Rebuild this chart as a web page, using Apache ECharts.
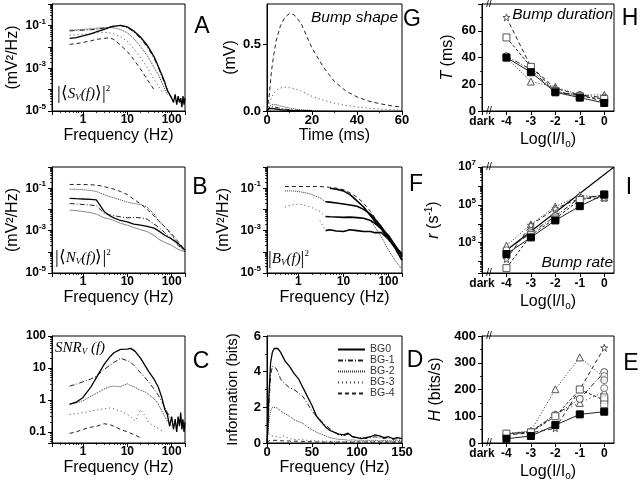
<!DOCTYPE html>
<html><head><meta charset="utf-8">
<script src="https://cdn.jsdelivr.net/npm/echarts@6/dist/echarts.min.js"></script>
<style>html,body{margin:0;padding:0;background:#fff}#c{width:640px;height:485px}</style>
</head><body><div id="c"></div>
<script>
// ---------------- DATA ----------------
// Panel A: signal power spectra |<S_V(f)>|^2
const fA = [0.5,0.7,1,1.5,2,3,4,5,7,10,14,20,28,40,50,60,70,80,90,100,110,120,130,140,150,160,170,180,190,200];
const A_bg0 = [0.025,0.027,0.032,0.04,0.05,0.066,0.08,0.09,0.1,0.085,0.055,0.028,0.012,0.0035,0.0012,0.0005,0.00022,0.00009,0.00006,0.00004,0.000025,0.00006,0.00002,0.00005,0.000025,0.00004,0.000015,0.00005,0.00002,0.00004];
const A_bg1 = [0.055,0.058,0.06,0.062,0.066,0.075,0.085,0.095,0.1,0.08,0.05,0.024,0.01,0.003,0.0011,0.0004,0.0002,0.0001,0.00006,0.00004];
const A_bg2 = [0.06,0.062,0.065,0.07,0.074,0.08,0.08,0.075,0.065,0.045,0.025,0.01,0.004,0.0011,0.0005,0.00022,0.0001,0.00006];
const A_bg3 = [0.035,0.036,0.038,0.042,0.045,0.048,0.045,0.04,0.03,0.018,0.008,0.003,0.0011,0.0003,0.00015,0.00008];
const A_bg4 = [0.013,0.014,0.016,0.019,0.022,0.025,0.026,0.022,0.012,0.006,0.0025,0.0009,0.0003,0.0001];

// Panel B: noise power spectra |<N_V(f)>|^2
const fB = [0.5,0.7,1,1.5,2,3,4,5,7,10,14,20,28,40,50,70,100,140,200];
const B_bg4 = [0.15,0.15,0.15,0.145,0.14,0.12,0.1,0.09,0.07,0.05,0.03,0.018,0.01,0.005,0.003,0.0015,0.0007,0.0003,0.00012];
const B_bg2 = [0.09,0.088,0.085,0.078,0.07,0.05,0.04,0.035,0.028,0.022,0.019,0.017,0.013,0.006,0.003,0.0015,0.0006,0.00025,0.0001];
const B_bg0 = [0.033,0.032,0.031,0.03,0.028,0.008,0.005,0.004,0.003,0.0026,0.002,0.0018,0.0016,0.0013,0.001,0.0006,0.0004,0.00025,0.00012];
const B_bg1 = [0.019,0.018,0.017,0.016,0.015,0.0066,0.0055,0.005,0.0045,0.004,0.0042,0.004,0.0035,0.002,0.0015,0.0008,0.0004,0.0002,0.0001];
const B_bg3 = [0.0093,0.0088,0.008,0.007,0.006,0.004,0.0035,0.003,0.0022,0.0018,0.0014,0.0011,0.0009,0.0006,0.0004,0.00028,0.0002,0.00013,0.0001];

// Panel F: bump power spectra |B_V(f)|^2
const fF = [0.5,0.7,1,1.5,2,3,4,5,7,10,14,20,28,40,50,70,100,140,200];
const F_top = [0.12,0.12,0.12,0.12,0.12,0.12,0.115,0.11,0.1,0.085,0.06,0.038,0.02,0.008,0.004,0.0015,0.0005,0.00015,0.00004];
const F_s1 = [null,null,null,null,null,null,null,0.1,0.09,0.075,0.05,0.025,0.013,0.005,0.0028,0.0012,0.0004,0.00018,0.00008];
const F_s2 = [null,null,null,null,null,null,0.023,0.022,0.02,0.018,0.016,0.014,0.01,0.006,0.0035,0.0015,0.0005,0.0002,0.00006];
const F_d2 = [0.075,0.075,0.07,0.06,0.05,0.035,0.023];
const F_s3 = [null,null,null,null,null,null,0.0046,0.0045,0.0044,0.0042,0.0043,0.0041,0.0038,0.003,0.0022,0.0012,0.0006,0.0002,0.00006];
const F_d3 = [0.013,0.016,0.018,0.015,0.012,0.008,0.0046];
const F_s4 = [null,null,null,null,null,null,0.001,0.0011,0.00095,0.0009,0.0011,0.001,0.0009,0.0009,0.0008,0.0008,0.0004,0.00015,0.00004];
const F_d4 = [null,null,null,null,null,0.003,0.001];
const F_tail = [null,null,null,null,null,null,null,null,null,null,null,null,null,0.003,0.0015,0.0005,0.00012,0.00004,0.000015];

// Panel G: bump shape
const tG = [0,1,2,3,4,5,6,8,10,12,15,20,25,30,35,40,45,50,55,60];
const G_bg4 = [0,0.12,0.3,0.42,0.52,0.58,0.64,0.7,0.73,0.72,0.66,0.47,0.33,0.22,0.15,0.105,0.075,0.055,0.04,0.028];
const G_bg3 = [0,0.05,0.1,0.13,0.15,0.165,0.172,0.178,0.175,0.168,0.15,0.11,0.08,0.058,0.042,0.03,0.021,0.015,0.01,0.007];
const G_bg2 = [0,0.03,0.045,0.05,0.048,0.043,0.038,0.03,0.022,0.016,0.01,0.004,0.0015,0.0005];
const G_bg1 = [0,0.025,0.033,0.032,0.028,0.024,0.02,0.014,0.01,0.007,0.004,0.001];
const G_bg0 = [0,0.018,0.02,0.018,0.015,0.012,0.01,0.006,0.004,0.002,0.001,0];

// Panel C: SNR
const fC = [0.5,0.7,1,1.5,2,3,4,5,7,10,12,15,20,25,30,40,50,60,70,80,90,100,110,120,130,140,150,160,170,180,190,200];
const C_bg0 = [0.74,0.85,1.2,2.5,5,13,22,30,38,39,41,33,20,12,8,4.5,2.5,1.2,0.5,0.35,0.15,0.3,0.12,0.25,0.1,0.3,0.15,0.4,0.12,0.25,0.1,0.2];
const C_bg1 = [2.7,3.1,3.7,4.5,5.5,9,12,15,20,17,15,11,7,5,3.7,2.2,1.4,0.9,0.6,0.4,0.3,0.25];
const C_bg2 = [0.72,0.8,0.95,1.3,1.6,2.2,2.6,2.7,2.6,3.2,2.8,2.5,2.0,1.8,1.5,1.1,0.75,0.45,0.3,0.22,0.18,0.15];
const C_bg3 = [0.35,0.37,0.4,0.45,0.48,0.53,0.56,0.52,0.45,0.35,0.3,0.22,0.5,0.32,0.2,0.15,0.13,0.11,0.1];
const C_bg4 = [0.09,0.1,0.12,0.14,0.15,0.18,0.17,0.15,0.12,0.1,0.09,0.08,0.065];

// Panel D: information
const fD = [0,1,2,4,6,8,10,12,15,18,20,25,30,35,40,45,50,55,60,65,70,75,80,85,90,95,100,105,110,115,120,125,130,135,140,145,150];
const D_bg0 = [0,1.0,2.5,4.5,5.1,5.3,5.35,5.3,5.1,4.8,4.6,4.3,3.9,3.6,3.1,2.6,2.1,1.5,1.2,0.9,0.7,0.6,0.5,0.45,0.55,0.35,0.3,0.25,0.3,0.35,0.45,0.4,0.3,0.35,0.25,0.3,0.25];
const D_bg1 = [0,0.8,2.0,3.8,4.3,4.4,4.2,4.0,3.6,3.4,3.3,3.1,3.0,2.8,2.6,2.2,1.8,1.5,1.25,1.0,0.8,0.6,0.45,0.4,0.5,0.35,0.3,0.3,0.25,0.3,0.35,0.3,0.25,0.3,0.2,0.25,0.2];
const D_bg2 = [0,0.5,1.2,1.8,2.0,2.1,2.0,1.9,1.8,1.7,1.6,1.5,1.3,1.2,1.1,0.9,0.75,0.6,0.5,0.4,0.3,0.25,0.2,0.2,0.15,0.18,0.15,0.15,0.12,0.15,0.15,0.12,0.15,0.12,0.12,0.15,0.12];
const D_bg3 = [0,0.6,0.5,0.45,0.4,0.35,0.3,0.35,0.3,0.4,0.35,0.25,0.2,0.2,0.18,0.15,0.15,0.12,0.1,0.1,0.1,0.08,0.1,0.08,0.08,0.1,0.08,0.08,0.1,0.08,0.08,0.08,0.1,0.08,0.08,0.08,0.08];
const D_bg4 = [0,0.1,0.12,0.15,0.15,0.14,0.15,0.14,0.13,0.12,0.12,0.11,0.1,0.1,0.09,0.08,0.07,0.06,0.06,0.05,0.05,0.05,0.05,0.05,0.05,0.05,0.05,0.05,0.05,0.05,0.05,0.05,0.05,0.05,0.05,0.05,0.05];
const legendNames = ['BG0','BG-1','BG-2','BG-3','BG-4'];

// Panels H, I, E: vs light level
const LX = [-4,-3,-2,-1,0];
const H_fsq = [40,29,14,10,6];
const H_osq = [55,33,15,11,9];
const H_star = [70,33,17,12,7];
const H_circ = [41,31,14,12,10];
const H_tri = [40,22,18,12,12];

const I_fsq = [250,1900,15000,85000,350000];
const I_osq = [45,2500,19000,180000,350000];
const I_star = [135,8500,63000,220000,220000];
const I_tri = [700,9300,80000,320000,250000];
const I_circ = [400,3200,25000,240000,300000];
const I_lineX = [-4,0.4];
const I_lineY = [400,1e7];

const E_fsq = [16,26,67,107,117];
const E_osq = [35,40,100,200,160];
const E_star = [30,38,55,200,356];
const E_tri = [36,45,201,320,245];
const E_tri2 = [33,44,107,150,191];
const E_circ = [33,42,105,165,265];
const E_extraX = [0,0,0];
const E_extraCirc = [250,235,205];
const E_extraSqX = [0,0];
const E_extraSq = [145,170];

const lightTicks = ['dark','-4','-3','-2','-1','0'];

// ---------------- LAYOUT ----------------
const FONT = "'Liberation Sans', Arial, Helvetica, sans-serif";
const SERIF = "'Liberation Serif', 'Times New Roman', serif";
// grids: A G H / B F I / C D E
const COLS = [[52,133],[267,135],[482,132]];
const ROWS = [[4,107],[167,106],[336,107]];
const GR = [];
for (let r=0;r<3;r++) for (let c=0;c<3;c++) GR.push({left:COLS[c][0], top:ROWS[r][0], width:COLS[c][1], height:ROWS[r][1]});
const IA=0, IG=1, IH=2, IB=3, IF=4, II=5, IC=6, ID=7, IE=8;

function merge(a,b){
  const o = Object.assign({}, a);
  for (const k in b){
    const v = b[k];
    if (v && typeof v==='object' && !Array.isArray(v) && a[k] && typeof a[k]==='object' && !Array.isArray(a[k])) o[k]=merge(a[k],v);
    else o[k]=v;
  }
  return o;
}
function zip(xs, ys){ const d=[]; for (let i=0;i<ys.length;i++){ if (ys[i]==null || xs[i]==null) continue; d.push([xs[i], ys[i]]);} return d; }
function isDecade(v){ const l=Math.log10(v); return Math.abs(l-Math.round(l))<1e-6; }

const LBL = {color:'#000', fontFamily:FONT, fontWeight:'bold', fontSize:12};
const SUPRICH = {
  b:{fontSize:12,fontWeight:'bold',fontFamily:FONT,color:'#000'},
  s:{fontSize:8,fontWeight:'bold',fontFamily:FONT,color:'#000',padding:[0,0,8,0]}
};
const NAMERICH = {
  i:{fontSize:16,fontStyle:'italic',fontFamily:FONT,color:'#000'},
  s:{fontSize:10,fontFamily:FONT,color:'#000',padding:[0,0,9,0]},
  sub:{fontSize:10,fontFamily:FONT,color:'#000',padding:[9,0,0,0]}
};
function axis(gi, opt){
  return merge({
    gridIndex: gi, nameLocation:'middle',
    axisLine:{show:true,onZero:false,lineStyle:{color:'#000',width:1}},
    axisTick:{show:true,length:4,lineStyle:{color:'#000',width:1}},
    minorTick:{show:false,length:2,lineStyle:{color:'#000',width:0.8}},
    splitLine:{show:false}, minorSplitLine:{show:false},
    axisLabel: Object.assign({margin:3}, LBL),
    nameTextStyle:{color:'#000',fontFamily:FONT,fontSize:16,rich:NAMERICH}
  }, opt);
}
const supFmt = v => { if (!isDecade(v)) return ''; const e=Math.round(Math.log10(v)); if (Math.abs(e%2)!==1) return ''; return '{b|10}{s|'+e+'}'; };
const freqFmt = v => (isDecade(v) && v>=1) ? String(Math.round(v)) : '';
const lightFmt = v => { const i = Math.round(v+5); if (Math.abs(v+5-i)>1e-6 || i<0 || i>5) return ''; return lightTicks[i]; };

function freqX(gi){ return axis(gi,{type:'log',min:0.2,max:200,name:'Frequency (Hz)',nameGap:17,
  axisLabel:{formatter:freqFmt}, minorTick:{show:true,splitNumber:9}}); }
function lightX(gi){ return axis(gi,{type:'value',min:-5,max:0.4,interval:1,name:'Log(I/I{sub|o})',nameGap:19,
  axisLabel:{formatter:lightFmt, margin:5, showMaxLabel:false}}); }
function specY(gi, gap){ return axis(gi,{type:'log',min:1e-5,max:1,name:'(mV²/Hz)',nameGap:gap,
  axisLabel:{formatter:supFmt, rich:SUPRICH, margin:6}, minorTick:{show:true,splitNumber:9}}); }

const xAxis = [], yAxis = [];
xAxis[IA]=freqX(IA); yAxis[IA]=specY(IA,31);
xAxis[IB]=freqX(IB); yAxis[IB]=specY(IB,31);
xAxis[IF]=freqX(IF); yAxis[IF]=specY(IF,35);
xAxis[IC]=freqX(IC);
yAxis[IC]=axis(IC,{type:'log',min:0.045,max:100,axisLabel:{margin:6,formatter:v=>isDecade(v)?String(Number(v.toPrecision(3))):''},minorTick:{show:true,splitNumber:9}});
xAxis[IG]=axis(IG,{type:'value',min:0,max:60,interval:20,name:'Time (ms)',nameGap:17,axisLabel:{fontSize:13},minorTick:{show:true,splitNumber:2}});
yAxis[IG]=axis(IG,{type:'value',min:0,max:0.8,interval:0.5,name:'(mV)',nameGap:24,axisLabel:{fontSize:13,margin:6,showMaxLabel:false,formatter:v=>v.toFixed(1)}});
xAxis[ID]=axis(ID,{type:'value',min:0,max:150,interval:50,name:'Frequency (Hz)',nameGap:17,axisLabel:{fontSize:13},minorTick:{show:true,splitNumber:2}});
yAxis[ID]=axis(ID,{type:'value',min:0,max:6,interval:2,name:'Information (bits)',nameGap:27,nameTextStyle:{fontSize:15},axisLabel:{fontSize:13,margin:6},minorTick:{show:true,splitNumber:2}});
xAxis[IH]=lightX(IH);
yAxis[IH]=axis(IH,{type:'value',min:0,max:80,interval:20,name:'{i|T} (ms)',nameGap:26,axisLabel:{fontSize:13,margin:6,showMaxLabel:false},minorTick:{show:true,splitNumber:2}});
xAxis[II]=lightX(II);
yAxis[II]=axis(II,{type:'log',min:25,max:1e7,name:'{i|r} (s{s|-1})',nameGap:39,axisLabel:{formatter:supFmt,rich:SUPRICH,margin:6},minorTick:{show:true,splitNumber:9}});
xAxis[IE]=lightX(IE);
yAxis[IE]=axis(IE,{type:'value',min:0,max:400,interval:100,name:'{i|H} (bits/s)',nameGap:38,axisLabel:{fontSize:13,margin:6},minorTick:{show:true,splitNumber:2}});

// ---------------- SERIES ----------------
const ST = {
  bg0:{color:'#000',width:1.3,type:'solid'},
  bg1:{color:'#222',width:1,type:[5,2,1,2]},
  bg2:{color:'#333',width:1,type:[1,1]},
  bg3:{color:'#444',width:1,type:[1,3]},
  bg4:{color:'#222',width:1,type:[4,3]},
  gray:{color:'#888',width:1,type:'solid'},
  thick:{color:'#000',width:1.6,type:'solid'}
};
function ln(gi, xs, ys, st, name){
  const s = {type:'line', xAxisIndex:gi, yAxisIndex:gi, data:zip(xs,ys), symbol:'none', silent:true,
    lineStyle:Object.assign({},st), itemStyle:{color:st.color}, z:3};
  if (name) s.name = name;
  return s;
}
const STAR = 'path://M0,-10L2.35,-3.24L9.51,-3.09L3.8,1.24L5.88,8.09L0,4L-5.88,8.09L-3.8,1.24L-9.51,-3.09L-2.35,-3.24Z';
function mk(gi, xs, ys, sym, filled, lt){
  return {type:'line', xAxisIndex:gi, yAxisIndex:gi, data:zip(xs,ys), symbol:sym, symbolSize:7, showSymbol:true, silent:true,
    lineStyle:{color:'#222',width:1,type:lt}, z: filled?6:5,
    itemStyle: filled ? {color:'#000',borderColor:'#000',borderWidth:1} : {color:'#fff',borderColor:'#555',borderWidth:1}};
}
function sc(gi, xs, ys, sym){
  return {type:'scatter', xAxisIndex:gi, yAxisIndex:gi, data:zip(xs,ys), symbol:sym, symbolSize:7, silent:true, z:5,
    itemStyle:{color:'#fff',borderColor:'#555',borderWidth:1}};
}

const series = [
  ln(IA,fA,A_bg4,ST.bg4), ln(IA,fA,A_bg3,ST.bg3), ln(IA,fA,A_bg2,ST.bg2), ln(IA,fA,A_bg1,ST.bg1), ln(IA,fA,A_bg0,ST.bg0),
  ln(IB,fB,B_bg4,ST.bg4), ln(IB,fB,B_bg2,ST.bg2), ln(IB,fB,B_bg3,ST.gray), ln(IB,fB,B_bg1,ST.bg1), ln(IB,fB,B_bg0,ST.bg0),
  ln(IF,fF,F_top,ST.bg4), ln(IF,fF,F_d2,ST.bg2), ln(IF,fF,F_d3,ST.bg3), ln(IF,fF,F_d4,ST.bg3), ln(IF,fF,F_tail,ST.bg2),
  ln(IF,fF,F_s1,ST.thick), ln(IF,fF,F_s2,ST.thick), ln(IF,fF,F_s3,ST.thick), ln(IF,fF,F_s4,ST.thick),
  ln(IG,tG,G_bg4,ST.bg4), ln(IG,tG,G_bg3,ST.bg3), ln(IG,tG,G_bg2,ST.bg2), ln(IG,tG,G_bg1,ST.bg1), ln(IG,tG,G_bg0,ST.bg0),
  ln(IC,fC,C_bg4,ST.bg4), ln(IC,fC,C_bg3,ST.bg3), ln(IC,fC,C_bg2,ST.bg2), ln(IC,fC,C_bg1,ST.bg1), ln(IC,fC,C_bg0,ST.bg0),
  ln(ID,fD,D_bg4,ST.bg4,'BG-4'), ln(ID,fD,D_bg3,ST.bg3,'BG-3'), ln(ID,fD,D_bg2,ST.bg2,'BG-2'), ln(ID,fD,D_bg1,ST.bg1,'BG-1'), ln(ID,fD,D_bg0,ST.bg0,'BG0'),
  mk(IH,LX,H_tri,'triangle',false,[1,2]), mk(IH,LX,H_circ,'circle',false,[5,2,1,2]), mk(IH,LX,H_star,STAR,false,[4,3]), mk(IH,LX,H_osq,'rect',false,[3,2]), mk(IH,LX,H_fsq,'rect',true,'solid'),
  ln(II,I_lineX,I_lineY,{color:'#000',width:1.2,type:'solid'}),
  mk(II,LX,I_tri,'triangle',false,[1,2]), mk(II,LX,I_circ,'circle',false,[5,2,1,2]), mk(II,LX,I_star,STAR,false,[4,3]), mk(II,LX,I_osq,'rect',false,[3,2]), mk(II,LX,I_fsq,'rect',true,'solid'),
  mk(IE,LX,E_tri,'triangle',false,[1,2]), mk(IE,LX,E_tri2,'triangle',false,[1,3]), mk(IE,LX,E_circ,'circle',false,[5,2,1,2]), mk(IE,LX,E_star,STAR,false,[4,3]), mk(IE,LX,E_osq,'rect',false,[3,2]), mk(IE,LX,E_fsq,'rect',true,'solid'),
  sc(IE,E_extraX,E_extraCirc,'circle'), sc(IE,E_extraSqX,E_extraSq,'rect')
];

// ---------------- TEXT / DECORATION ----------------
function txt(x,y,text,extra){
  return {type:'text', x, y, silent:true, z:50, style:Object.assign({text, fill:'#000', fontFamily:FONT, fontSize:16,
    align:'left', verticalAlign:'middle', textAlign:'left', textVerticalAlign:'middle'}, extra||{})};
}
const letters = [['A',202,27],['G',412,20],['H',630,19],['B',200,188],['F',416,185],['I',629,188],['C',201,362],['D',415,361],['E',631,364]];
const ANN = {
  br:{fontFamily:SERIF,fontSize:19,fill:'#000',color:'#000'},
  ang:{fontFamily:SERIF,fontSize:17,fill:'#000',color:'#000'},
  i:{fontFamily:SERIF,fontStyle:'italic',fontSize:15,fill:'#000',color:'#000'},
  n:{fontFamily:SERIF,fontSize:15,fill:'#000',color:'#000'},
  sub:{fontFamily:SERIF,fontStyle:'italic',fontSize:9,fill:'#000',color:'#000',padding:[7,0,0,0]},
  sup:{fontFamily:SERIF,fontSize:9,fill:'#000',color:'#000',padding:[0,0,10,0]}
};
const graphic = [];
letters.forEach(l => graphic.push(txt(l[1], l[2], l[0], {fontSize:23, align:'center', textAlign:'center'})));
function gr(i){ return GR[i]; }
graphic.push(txt(gr(IG).left+gr(IG).width-4, 18, 'Bump shape', {fontStyle:'italic', fontSize:15.5, align:'right', textAlign:'right'}));
graphic.push(txt(gr(IH).left+gr(IH).width-1, 15, 'Bump duration', {fontStyle:'italic', fontSize:15.5, align:'right', textAlign:'right'}));
graphic.push(txt(gr(II).left+gr(II).width-1, 263, 'Bump rate', {fontStyle:'italic', fontSize:15.5, align:'right', textAlign:'right'}));
graphic.push(txt(gr(IA).left+5, 94, '{br||}{ang|⟨}{i|S}{sub|V}{i|(f)}{ang|⟩}{br||}{sup|2}', {rich:ANN}));
graphic.push(txt(gr(IB).left+3, 258, '{br||}{ang|⟨}{i|N}{sub|V}{i|(f)}{ang|⟩}{br||}{sup|2}', {rich:ANN}));
graphic.push(txt(gr(IF).left+1, 259, '{br||}{i|B}{sub|V}{i|(f)}{br||}{sup|2}', {rich:ANN}));
graphic.push(txt(gr(IC).left+3, 348, '{i|SNR}{sub|V}{i| (f)}', {rich:ANN}));
[IH,II,IE].forEach(i => {
  const g = gr(i);
  graphic.push(txt(g.left+7, g.top, '//', {fontSize:10, align:'center', textAlign:'center'}));
  graphic.push(txt(g.left+7, g.top+g.height, '//', {fontSize:10, align:'center', textAlign:'center'}));
});

const option = {
  animation:false,
  backgroundColor:'#fff',
  grid: GR.map(g => ({left:g.left, top:g.top, width:g.width, height:g.height, show:true, borderColor:'#000', borderWidth:1, backgroundColor:'rgba(0,0,0,0)', containLabel:false})),
  xAxis, yAxis, series, graphic,
  legend:{data:legendNames, orient:'vertical', left:337, top:344, itemWidth:27, itemHeight:8, itemGap:0, padding:0, selectedMode:false,
    itemStyle:{opacity:0},
    textStyle:{fontFamily:FONT, fontSize:10.5, color:'#333', lineHeight:8}}
};
const chart = echarts.init(document.getElementById('c'), null, {renderer:'canvas'});
chart.setOption(option);
</script></body></html>
